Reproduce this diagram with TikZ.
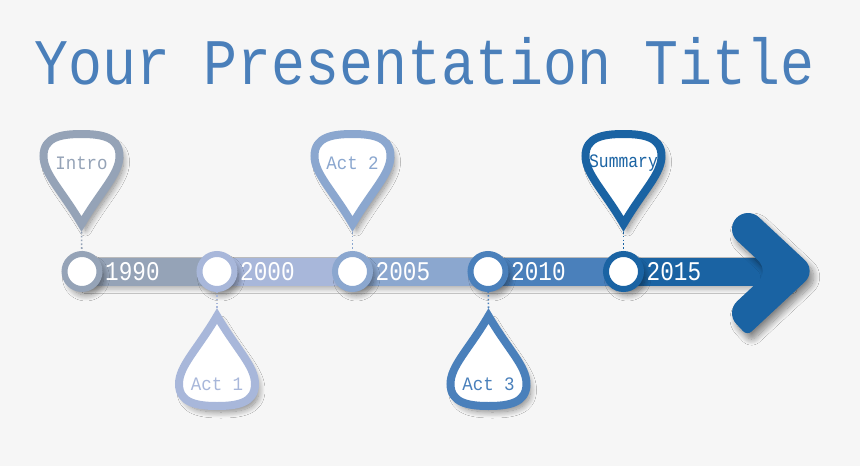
\documentclass[tikz,border=0pt]{standalone}
\usepackage{fontspec}
\usepackage{graphicx}
\newfontfamily\monofont{Liberation Mono}
\newcommand\cz[2]{\scalebox{#1}[1]{#2}}
\usetikzlibrary{shadows.blur}
\definecolor{bg}{HTML}{F6F6F6}
\definecolor{cA}{HTML}{95A3B7}
\definecolor{cB}{HTML}{A8B7DA}
\definecolor{cC}{HTML}{8BA7CF}
\definecolor{cD}{HTML}{4A80BB}
\definecolor{cE}{HTML}{1A63A3}
\definecolor{titlec}{HTML}{4A7FBA}
\tikzset{
  shad/.style={blur shadow={shadow xshift=4pt, shadow yshift=-6pt, shadow blur radius=6pt, shadow blur steps=14, shadow opacity=45}},
  ring/.style={circle, fill=white, draw=#1, line width=6pt, minimum size=35pt, inner sep=0pt, shad},
  yearlabel/.style={text=white, font=\monofont\fontsize{27}{27}\selectfont, anchor=base west, inner sep=0pt},
  pintext/.style={text=#1, font=\monofont\fontsize{19}{19}\selectfont, anchor=base, inner sep=0pt},
  dotline/.style={draw=#1, line width=1.6pt, dash pattern=on 1.6pt off 2.2pt},
  pinup/.pic={\path[fill=white, draw=#1, line width=8pt, miter limit=20, shad]
     (0,-8) .. controls (-20,-42) and (-38,-58) .. (-38,-76)
     .. controls (-38,-95) and (-20,-98) .. (0,-98)
     .. controls (20,-98) and (38,-95) .. (38,-76)
     .. controls (38,-58) and (20,-42) .. (0,-8) -- cycle;},
  pindown/.pic={\path[fill=white, draw=#1, line width=8pt, miter limit=20, shad]
     (0,8) .. controls (-20,42) and (-38,58) .. (-38,76)
     .. controls (-38,95) and (-20,98) .. (0,98)
     .. controls (20,98) and (38,95) .. (38,76)
     .. controls (38,58) and (20,42) .. (0,8) -- cycle;}
}
\begin{document}
\begin{tikzpicture}[x=1pt, y=-1pt]
\useasboundingbox (0,0) rectangle (860,466);
\fill[bg] (0,0) rectangle (860,466);
% title
\node[font=\monofont\fontsize{65}{65}\selectfont, text=titlec, anchor=base, inner sep=0pt] (title) at (424.5,84) {\cz{0.87}{Your Presentation Title}};
% bar
\path[fill=cE, blur shadow={shadow xshift=3pt, shadow yshift=-4pt, shadow blur radius=4pt, shadow blur steps=10, shadow opacity=25}] (82,257.5) rectangle (790,285.5);
\fill[cA] (82,257.5) rectangle (217,285.5);
\fill[cB] (217,257.5) rectangle (352.5,285.5);
\fill[cC] (352.5,257.5) rectangle (488,285.5);
\fill[cD] (488,257.5) rectangle (623.5,285.5);
% arrow head
\path[fill=cE, shad] (725.4,229.8) [rounded corners=16pt] -- (747.2,206.4) -- (816.5,271) [rounded corners=6pt] -- (747.2,335.6) [rounded corners=16pt] -- (725.4,312.2) -- (769.5,271) -- cycle;
% circles
\node[ring=cA] (y1990) at (82,271.5) {};
\node[ring=cB] (y2000) at (217,271.5) {};
\node[ring=cC] (y2005) at (352.5,271.5) {};
\node[ring=cD] (y2010) at (488,271.5) {};
\node[ring=cE] (y2015) at (623.5,271.5) {};
% year labels
\node[yearlabel] (l1990) at (105,280.5) {\cz{0.84}{1990}};
\node[yearlabel] (l2000) at (240,280.5) {\cz{0.84}{2000}};
\node[yearlabel] (l2005) at (375.5,280.5) {\cz{0.84}{2005}};
\node[yearlabel] (l2010) at (511,280.5) {\cz{0.84}{2010}};
\node[yearlabel] (l2015) at (646.5,280.5) {\cz{0.84}{2015}};
% pin tips
\coordinate (tI) at (81.5,232);
\coordinate (t1) at (217,308);
\coordinate (t2) at (352.5,232);
\coordinate (t3) at (488.5,308);
\coordinate (tS) at (623.5,232);
% dotted connectors
\draw[dotline=cA] (tI) -- (y1990);
\draw[dotline=cB] (t1) -- (y2000);
\draw[dotline=cC] (t2) -- (y2005);
\draw[dotline=cD] (t3) -- (y2010);
\draw[dotline=cE] (tS) -- (y2015);
% pins
\pic (pI) at (tI) {pinup=cA};
\pic (p1) at (t1) {pindown=cB};
\pic (p2) at (t2) {pinup=cC};
\pic (p3) at (t3) {pindown=cD};
\pic (pS) at (tS) {pinup=cE};
% pin texts
\node[pintext=cA] (intro) at (81.5,169) {\cz{0.92}{Intro}};
\node[pintext=cB] (act1) at (217,390) {\cz{0.92}{Act 1}};
\node[pintext=cC] (act2) at (352.5,169) {\cz{0.92}{Act 2}};
\node[pintext=cD] (act3) at (488.5,390) {\cz{0.92}{Act 3}};
\node[pintext=cE] (summary) at (623.5,167) {\cz{0.86}{Summary}};
\end{tikzpicture}
\end{document}
